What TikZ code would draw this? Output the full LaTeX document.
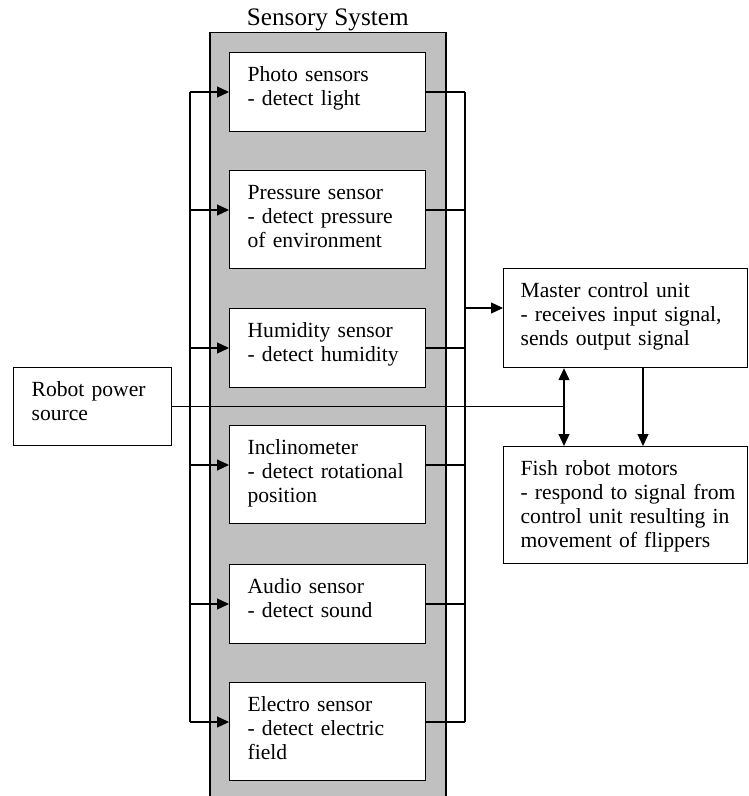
\documentclass[tikz,border=0pt]{standalone}
\usepackage{fontspec}
\setmainfont{Liberation Serif}
\usetikzlibrary{arrows.meta}
\definecolor{sysgray}{HTML}{C0C0C0}

\begin{document}
\begin{tikzpicture}[
    x=0.5pt, y=-0.5pt,
    font=\fontsize{10.8}{12}\selectfont,
    box/.style={
      draw, fill=white, line width=0.6pt, anchor=north west, align=left,
      inner xsep=9pt, inner ysep=0pt, text height=14.5pt
    },
    sensor/.style={box, text width=80pt, text depth=#1},
    sensor/.default=25pt,
    unit/.style={box, inner xsep=8.5pt, text width=105pt, text depth=#1},
    wire/.style={line width=0.6pt},
    arr/.style={wire, -{Triangle[length=6pt,width=5.5pt]}}
  ]
    \clip (0,0) rectangle (748,796);

    % sensory system frame
    \node[draw, fill=sysgray, line width=0.75pt, anchor=north west, inner sep=0pt,
      minimum width=118pt, minimum height=390pt] (sys) at (209,32) {};
    \node[font=\fontsize{12.6}{15}\selectfont, anchor=base] (title)
      at ([yshift=3pt]sys.north) {Sensory System};

    \coordinate (lbus) at (190,0);
    \coordinate (rbus) at (465,0);

    % power
    \node[box, text width=61pt, text depth=24.5pt] (pwr) at (13,367) {Robot power\\source};
    \coordinate (pj) at (564,0);
    \draw[wire] (pwr.east) -- (pwr.east -| pj);

    % sensors
    \node[sensor] (photo) at (229,52) {Photo sensors\\- detect light};
    \node[sensor=34.5pt] (press) at (229,170) {Pressure sensor\\- detect pressure\\of environment};
    \node[sensor] (humid) at (229,308) {Humidity sensor\\- detect humidity};
    \node[sensor=34.5pt] (incl) at (229,425) {Inclinometer\\- detect rotational\\position};
    \node[sensor] (audio) at (229,564) {Audio sensor\\- detect sound};
    \node[sensor=34.5pt] (elec) at (229,682) {Electro sensor\\- detect electric\\field};

    \foreach \s in {photo,press,humid,incl,audio,elec}{
      \coordinate (\s-in) at ([yshift=-20pt]\s.north west);
      \coordinate (\s-out) at ([yshift=-20pt]\s.north east);
      \draw[arr] (\s-in -| lbus) -- (\s-in);
      \draw[wire] (\s-out) -- (\s-out -| rbus);
    }
    \draw[wire] (photo-in -| lbus) -- (elec-in -| lbus);
    \draw[wire] (photo-out -| rbus) -- (elec-out -| rbus);

    % control and motors
    \node[unit=35pt] (mcu) at (503,268) {Master control unit\\- receives input signal,\\sends output signal};
    \node[unit=44pt] (fish) at (503,446) {Fish robot motors\\\mbox{- respond to signal from}\\control unit resulting in\\movement of flippers};

    \coordinate (mcu-in) at ([yshift=-20pt]mcu.north west);
    \draw[arr] (mcu-in -| rbus) -- (mcu-in);

    \draw[arr] (pwr.east -| pj) -- (mcu.south -| pj);
    \draw[arr] (pwr.east -| pj) -- (fish.north -| pj);

    \coordinate (sig) at (643,0);
    \draw[arr] (mcu.south -| sig) -- (fish.north -| sig);
  \end{tikzpicture}
\end{document}
